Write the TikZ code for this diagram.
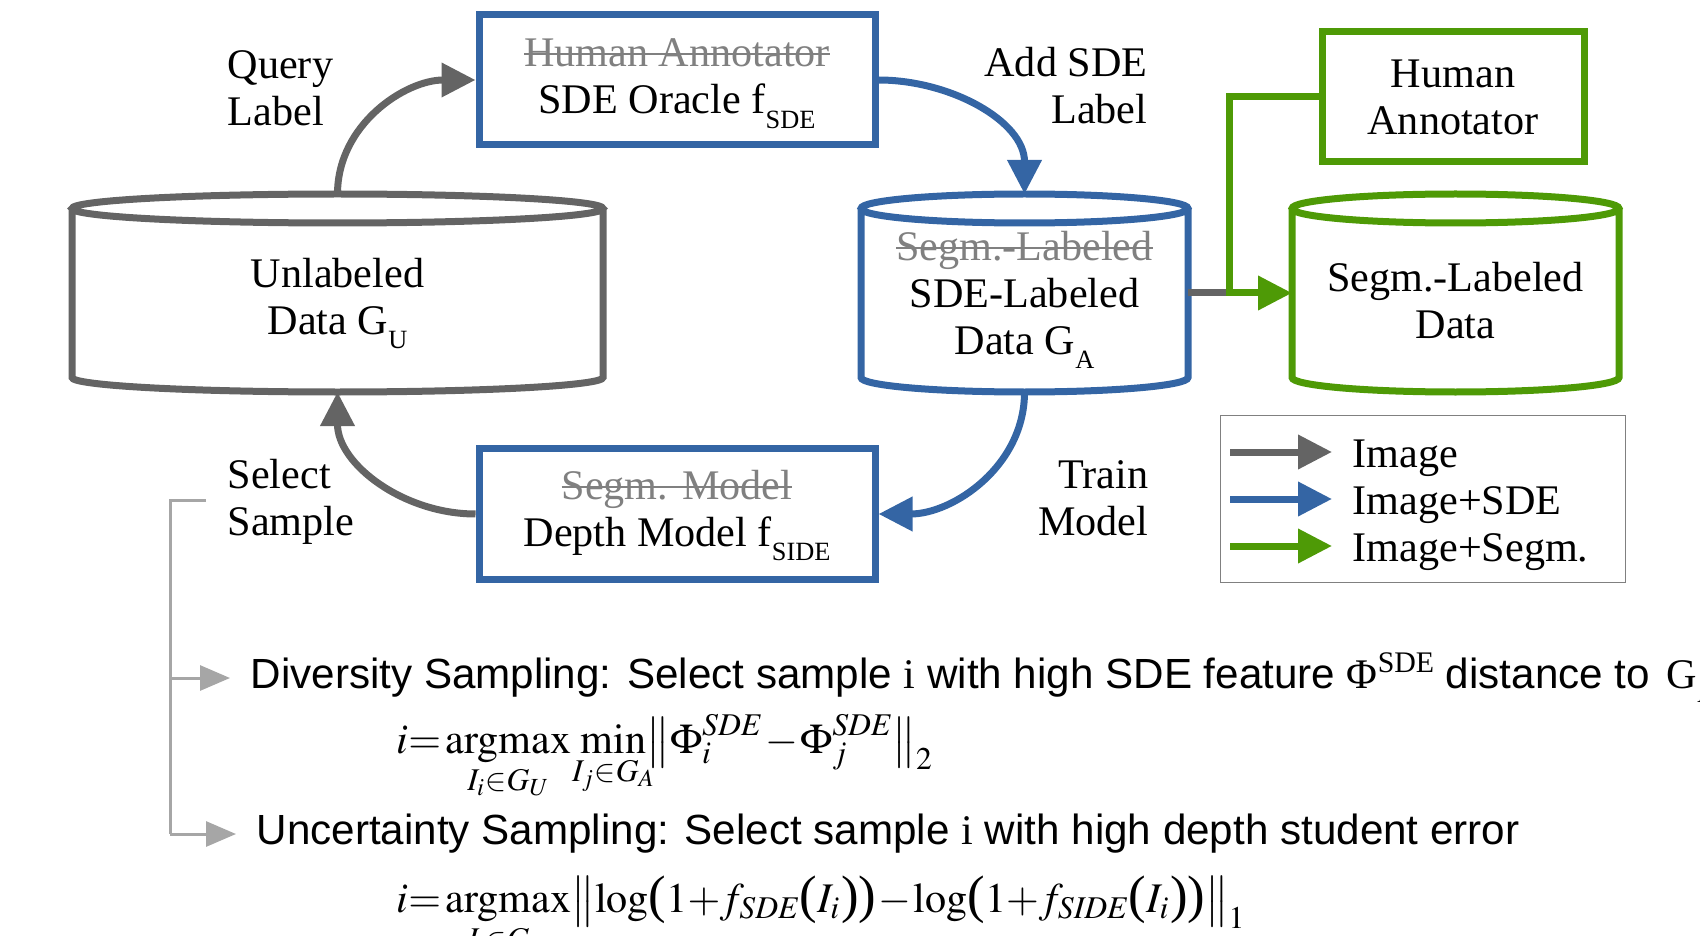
\documentclass[tikz,border=0pt]{standalone}
\usepackage{amsmath}
\usepackage{mathptmx}
\usepackage[no-math]{fontspec}
\setmainfont{Liberation Serif}
\setsansfont{Liberation Sans}
\usetikzlibrary{positioning,arrows.meta}
\definecolor{imggray}{RGB}{100,100,100}
\definecolor{sdeblue}{RGB}{52,101,164}
\definecolor{segmgreen}{RGB}{78,154,6}
\definecolor{strikegray}{RGB}{128,128,128}
\definecolor{brkgray}{RGB}{166,166,166}
\newsavebox\oldbox
\newcommand{\old}[1]{{\color{strikegray}\sbox\oldbox{#1}\rlap{\usebox\oldbox}\rule[0.28em]{\wd\oldbox}{0.2mm}}}
\newcommand{\low}[1]{\raisebox{-4pt}{\fontsize{7.5}{7.5}\selectfont #1}}
\newcommand{\high}[1]{\raisebox{4.5pt}{\fontsize{8.5}{8.5}\selectfont #1}}
\newcommand{\bop}{\mathopen{\text{\fontsize{15}{15}\selectfont(}}}
\newcommand{\bcl}{\mathclose{\text{\fontsize{15}{15}\selectfont)}}}
% cylinder outline round a db node: node, colour, half width
\newcommand{\dbdraw}[3]{%
  \draw[#2, line width=0.7mm] ([yshift=-1.45mm]#1.north) ellipse[x radius=#3, y radius=1.45mm]
    ([yshift=-1.45mm]#1.north west) -- ([yshift=1.45mm]#1.south west)
    arc[start angle=180, end angle=360, x radius=#3, y radius=1.45mm] -- ([yshift=-1.45mm]#1.north east);
}
\begin{document}
\begin{tikzpicture}[x=0.1mm, y=-0.1mm, font=\fontsize{12}{13.4}\selectfont,
    box/.style = {draw, line width=0.7mm, minimum width=39.6mm, minimum height=13mm, align=center, inner sep=0pt, text depth=2pt},
    db/.style = {minimum height=19.8mm, align=center, inner sep=0pt, outer sep=0pt, text depth=0pt},
    flow/.style = {line width=0.7mm, -{Triangle[length=3.4mm, width=3.3mm]}},
    lbl/.style = {inner sep=0pt},
    note/.style = {inner ysep=0pt, inner xsep=2mm, anchor=west, font=\fontsize{12}{13.4}\sffamily},
    brk/.style = {draw=brkgray, line width=0.3mm}]
    \useasboundingbox (0,0) rectangle (1700,935);
    \clip (0,0) rectangle (1700,935);
    % data stores
    \node[db, minimum width=53.1mm, text height=23.5pt] (unl) at (337.5,293) {Unlabeled\\Data G\low{U}};
    \node[db, minimum width=32.7mm] (sdedata) at (1024.5,293) {\old{Segm.-Labeled}\\SDE-Labeled\\Data G\low{A}};
    \node[db, minimum width=32.7mm, text height=26pt] (segdata) [right=10.4mm of sdedata] {Segm.-Labeled\\Data};
    \dbdraw{unl}{imggray}{26.55mm}
    \dbdraw{sdedata}{sdeblue}{16.35mm}
    \dbdraw{segdata}{segmgreen}{16.35mm}
    % models
    \node[box, draw=sdeblue] (oracle) at (677,80) {\old{Human Annotator}\\SDE Oracle f\low{SDE}};
    \node[box, draw=sdeblue, text depth=3.2pt] (depth) [below=29.7mm of oracle] {\old{Segm. Model}\\Depth Model f\low{SIDE}};
    \node[box, draw=segmgreen, minimum width=26.2mm, text depth=0pt] (human) at (1453,97) {Human\\Annotator};
    % edge labels
    \node[lbl, align=left, anchor=west] (query) at (227,88) {Query\\Label};
    \node[lbl, align=right, anchor=east] (addlbl) at (1148,86) {Add SDE\\Label};
    \node[lbl, align=left, anchor=west] (select) at (227,502) {Select\\Sample};
    \node[lbl, align=right, anchor=east] (train) at (1149,498) {Train\\Model};
    % loop
    \draw[flow, imggray] (unl.north) to[out=90, in=180] (oracle.west);
    \draw[flow, sdeblue] (oracle.east) to[out=0, in=90] (sdedata.north);
    \draw[flow, sdeblue] (sdedata.south) to[out=-90, in=0] (depth.east);
    \draw[flow, imggray] (depth.west) to[out=180, in=-90] (unl.south);
    \coordinate (jn) at (1229,293);
    \draw[imggray, line width=0.7mm] (sdedata.east) -- (jn);
    \draw[flow, segmgreen] (human.west) -| (jn) -- (segdata.west);
    % legend
    \node[draw=strikegray, line width=0.15mm, minimum width=40.5mm, minimum height=16.7mm] (legend) at (1423,499) {};
    \foreach \c/\t [count=\i] in {imggray/Image, sdeblue/Image+SDE, segmgreen/Image+Segm.} {
        \coordinate (la\i) at (1230,405+47*\i);
        \coordinate (lb\i) at (1332,405+47*\i);
        \draw[flow, \c] (la\i) -- (lb\i);
        \node[lbl, anchor=base west] (lt\i) at (1352,420+47*\i) {\t};
    }
    % sampling strategies
    \node[note] (div) at (230,678) {Diversity Sampling: Select sample {\rmfamily i} with high SDE feature {\rmfamily Φ\high{SDE}} distance to\hspace{1.5pt} {\rmfamily G\low{A}}};
    \node[note] (unc) at (236,834) {Uncertainty Sampling: Select sample {\rmfamily i} with high depth student error};
    \node[lbl, anchor=base west] (f1) at (396,753) {$\medmuskip=1mu\displaystyle i{=}\operatorname*{argmax}_{I_i\in G_U}\,\min_{\makebox[0pt]{$\scriptstyle I_j\in G_A$}}\bigl\|\Phi_i^{\mathit{SDE}}-\Phi_j^{\mathit{SDE}}\bigr\|_2$};
    \node[lbl, anchor=base west] (f2) at (396,912) {$\medmuskip=1mu\displaystyle i{=}\operatorname*{argmax}_{I_i\in G_U}\bigl\|\log\bop 1{+}f_{\mathit{SDE}}\bop I_i\bcl\bcl-\log\bop 1{+}f_{\mathit{SIDE}}\bop I_i\bcl\bcl\bigr\|_1$};
    \coordinate (brk) at (206,500);
    \coordinate (brkx) at (170,500);
    \draw[brk] (brk) -- (brkx) -- (brkx |- unc.west);
    \draw[brk, -{Triangle[length=3mm, width=2.5mm]}] (brkx |- div.west) -- (div.west);
    \draw[brk, -{Triangle[length=3mm, width=2.5mm]}] (brkx |- unc.west) -- (unc.west);
\end{tikzpicture}
\end{document}
